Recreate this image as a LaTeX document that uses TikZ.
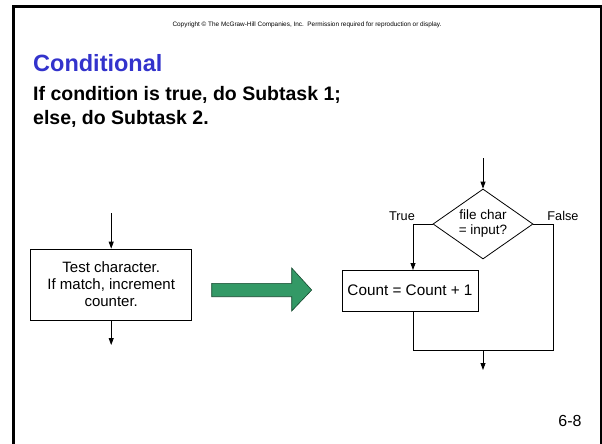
\documentclass[tikz,border=0pt]{standalone}
\usepackage{fontspec}
\setmainfont{Liberation Sans}
\usetikzlibrary{arrows.meta,shapes.geometric}
\definecolor{titleblue}{RGB}{51,51,204}
\definecolor{arrowgreen}{RGB}{51,153,102}
\definecolor{arrowedge}{RGB}{20,70,45}
\begin{document}
\begin{tikzpicture}[x=1pt,y=-1pt,
  conn/.style={line width=0.8pt,draw=black},
  arr/.style={conn,-{Triangle[length=7pt,width=5pt]}},
  procbox/.style={draw,line width=0.8pt,inner sep=0pt,align=center},
  decision/.style={draw,line width=0.8pt,diamond,shape aspect=1.43,minimum width=100pt,minimum height=70pt,inner sep=0pt,align=center,font=\fontsize{13.5}{15}\selectfont},
  lbl/.style={inner sep=0pt,font=\fontsize{12.7}{14}\selectfont}]
\useasboundingbox (0,0) rectangle (602,444);
\fill[white] (0,0) rectangle (602,444);
% frame
\draw[line width=3pt] (13.5,444) -- (13.5,6.3);
\draw[line width=2.5pt] (12,6.3) -- (601.5,6.3);
\draw[line width=2pt] (600.5,5) -- (600.5,444);
% header texts
\node[inner sep=0pt,font=\fontsize{6.4}{7}\selectfont] (copy) at (307,25) {Copyright © The McGraw-Hill Companies, Inc.\ \ Permission required for reproduction or display.};
\node[inner sep=0pt,anchor=base west,text=titleblue,font=\fontsize{23.5}{26}\selectfont\bfseries] (title) at (33,71.7) {Conditional};
\node[inner sep=0pt,anchor=base west,font=\fontsize{19.5}{24}\selectfont\bfseries] (sub1) at (33,100) {If condition is true, do Subtask 1;};
\node[inner sep=0pt,anchor=base west,font=\fontsize{19.5}{24}\selectfont\bfseries] (sub2) at (33,124) {else, do Subtask 2.};
% left box
\node[procbox,minimum width=161pt,minimum height=71pt,font=\fontsize{15}{17}\selectfont] (task) at (111.2,284.5) {Test character.\\If match, increment\\counter.};
\coordinate (tin) at (111.2,213);
\coordinate (tout) at (111.2,345);
\draw[arr] (tin) -- (task.north);
\draw[arr] (task.south) -- (tout);
% green arrow
\draw[fill=arrowgreen,draw=arrowedge,line width=0.6pt] (211.7,283.3) -- (291.7,283.3) -- (291.7,268) -- (311.7,290) -- (291.7,311) -- (291.7,296.7) -- (211.7,296.7) -- cycle;
% right flowchart
\node[decision] (dec) at (483,224) {file char\\= input?};
\node[procbox,minimum width=136pt,minimum height=41pt,font=\fontsize{15.3}{17}\selectfont] (cnt) at (410,290.5) {Count = Count + 1};
\coordinate (din) at (483,158);
\coordinate (tcol) at (413,270);
\coordinate (jl) at (413,350);
\coordinate (jr) at (553,350);
\coordinate (jm) at (483,350);
\coordinate (dout) at (483,370);
\draw[arr] (din) -- (dec.north);
\draw[arr] (dec.west) -| (tcol);
\draw[conn] (dec.east) -| (jr) -- (jl) -- (tcol |- cnt.south);
\draw[arr] (jm) -- (dout);
\node[lbl] (ltrue) at (402,216) {True};
\node[lbl] (lfalse) at (563,216) {False};
% page number
\node[inner sep=0pt,font=\fontsize{16}{18}\selectfont] (page) at (570,421) {6-8};
\end{tikzpicture}
\end{document}
